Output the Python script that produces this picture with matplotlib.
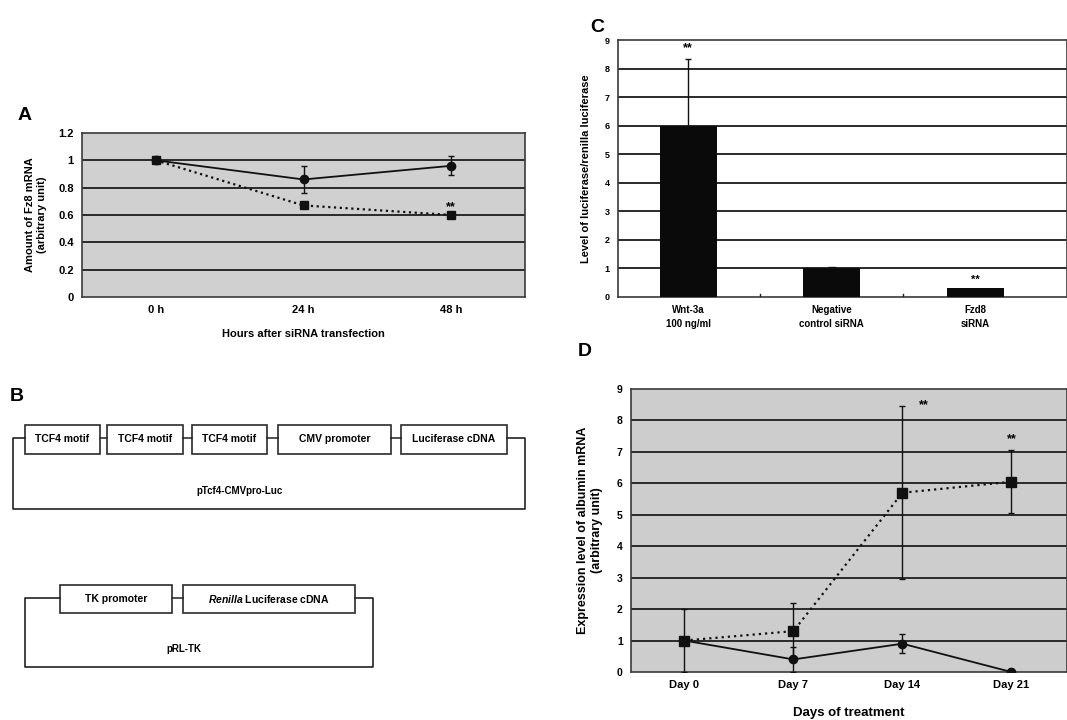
import matplotlib.pyplot as plt
from matplotlib.patches import Rectangle

plt.rcParams['font.family'] = ['Liberation Sans', 'DejaVu Sans']
plt.rcParams['font.weight'] = 'bold'
plt.rcParams['axes.labelweight'] = 'bold'
plt.rcParams['mathtext.fontset'] = 'custom'
plt.rcParams['mathtext.it'] = 'Liberation Sans:italic:bold'

# ---- data ----
# panel A: Fz8 mRNA after siRNA
a_labels = ['0 h', '24 h', '48 h']
a_ctrl = [1.0, 0.86, 0.96]
a_ctrl_err = [0.01, 0.1, 0.07]
a_sirna = [1.0, 0.67, 0.6]

# panel C: luciferase reporter
c_labels = ['Wnt-3a\n100 ng/ml', 'Negative\ncontrol siRNA', 'Fzd8\nsiRNA']
c_values = [6.0, 1.0, 0.3]
c_err = [2.35, 0.04, 0.0]

# panel D: albumin mRNA
d_labels = ['Day 0', 'Day 7', 'Day 14', 'Day 21']
d_sirna = [1.0, 1.3, 5.7, 6.05]
d_sirna_err = [1.0, 0.9, 2.75, 1.0]
d_ctrl = [1.0, 0.4, 0.9, 0.0]
d_ctrl_err = [0.0, 0.4, 0.3, 0.0]

# panel B: constructs
b1_parts = ['TCF4 motif', 'TCF4 motif', 'TCF4 motif', 'CMV promoter', 'Luciferase cDNA']
b1_name = 'pTcf4-CMVpro-Luc'
b2_parts = ['TK promoter', '$\\it{Renilla}$ Luciferase cDNA']
b2_name = 'pRL-TK'

W, H = 1067, 720
fig = plt.figure(figsize=(W / 100, H / 100), dpi=100)


def px_axes(x0, y0, x1, y1):
    # pixel box (top-left origin) -> axes
    return fig.add_axes([x0 / W, 1 - y1 / H, (x1 - x0) / W, (y1 - y0) / H])


def style(ax, grid_vals, face):
    ax.set_facecolor(face)
    for v in grid_vals:
        ax.axhline(v, color='#2a2a2a', lw=1.4, zorder=1)
    for s in ax.spines.values():
        s.set_color('#3a3a3a')
        s.set_linewidth(1.2)
    ax.tick_params(length=0, labelsize=8, pad=6)


# ---- A ----
ax = px_axes(82, 133, 525, 297)
style(ax, [0.2, 0.4, 0.6, 0.8, 1.0], '#d0d0d0')
xa = range(len(a_labels))
ax.errorbar(xa, a_ctrl, yerr=a_ctrl_err, color='#111', lw=1.3, marker='o', ms=6,
            capsize=2, elinewidth=1, zorder=4)
ax.plot(xa, a_sirna, color='#111', lw=1.6, ls=(0, (1, 1.6)), marker='s', ms=6, zorder=4)
ax.text(2, a_sirna[2] + 0.06, '**', ha='center', va='center', fontsize=9)
ax.set_xlim(-0.5, 2.5)
ax.set_ylim(0, 1.2)
ax.set_yticks([0, 0.2, 0.4, 0.6, 0.8, 1, 1.2])
ax.set_yticklabels(['0', '0.2', '0.4', '0.6', '0.8', '1', '1.2'])
ax.set_xticks(list(xa))
ax.set_xticklabels(a_labels)
ax.set_ylabel('Amount of Fz8 mRNA\n(arbitrary unit)', fontsize=8, labelpad=8)
ax.set_xlabel('Hours after siRNA transfection', fontsize=8, labelpad=10)
fig.text(18 / W, 1 - 115 / H, 'A', fontsize=14, ha='left', va='center')

# ---- C ----
ax = px_axes(618, 40, W, 297)
style(ax, range(1, 9), 'white')
xc = range(len(c_labels))
ax.bar(xc, c_values, width=0.4, color='#0a0a0a', zorder=3)
ax.errorbar([0], [c_values[0]], yerr=[[0], [c_err[0]]], fmt='none', ecolor='#111',
            elinewidth=1, capsize=2, zorder=4)
ax.errorbar([1], [c_values[1]], yerr=[[0], [c_err[1]]], fmt='none', ecolor='#111',
            elinewidth=1, capsize=3, zorder=4)
ax.text(0, c_values[0] + c_err[0] + 0.35, '**', ha='center', va='center', fontsize=9)
ax.text(2, c_values[2] + 0.3, '**', ha='center', va='center', fontsize=8)
ax.set_xlim(-0.49, 2.64)
ax.set_ylim(0, 9)
ax.set_yticks(range(10))
ax.tick_params(axis='y', labelsize=6.5)
ax.set_xticks(list(xc))
ax.set_xticklabels(c_labels, fontsize=7, linespacing=1.5)
for b in [0.5, 1.5]:
    ax.plot([b, b], [0, 0.12], color='#222', lw=1, zorder=3)
ax.set_ylabel('Level of luciferase/renilla luciferase', fontsize=8, labelpad=10)
fig.text(590 / W, 1 - 28 / H, 'C', fontsize=14, ha='left', va='center')

# ---- D ----
ax = px_axes(631, 389, W, 672)
style(ax, range(1, 9), '#cdcdcd')
xd = range(len(d_labels))
ax.errorbar(xd, d_sirna, yerr=d_sirna_err, color='#111', lw=1.6, ls=(0, (1, 1.8)),
            marker='s', ms=7, capsize=2, elinewidth=1, zorder=4)
ax.errorbar(xd, d_ctrl, yerr=d_ctrl_err, color='#111', lw=1.3, marker='o', ms=6,
            capsize=2, elinewidth=1, zorder=4)
ax.text(2.2, 8.5, '**', ha='center', va='center', fontsize=9)
ax.text(3.0, 7.4, '**', ha='center', va='center', fontsize=9)
ax.set_xlim(-0.49, 3.51)
ax.set_ylim(0, 9)
ax.set_yticks(range(10))
ax.tick_params(axis='y', labelsize=7.5)
ax.set_xticks(list(xd))
ax.set_xticklabels(d_labels)
ax.set_ylabel('Expression level of albumin mRNA\n(arbitrary unit)', fontsize=9, labelpad=10)
ax.set_xlabel('Days of treatment', fontsize=9.5, labelpad=12)
fig.text(578 / W, 1 - 352 / H, 'D', fontsize=14, ha='left', va='center')

# ---- B: plasmid diagrams ----
axb = fig.add_axes([0, 0, 1, 1])
axb.set_xlim(0, W)
axb.set_ylim(H, 0)
axb.axis('off')
axb.patch.set_alpha(0)
fig.text(10 / W, 1 - 396 / H, 'B', fontsize=14, ha='left', va='center')


def construct(parts, xs, top, bot, loop_left, loop_right, loop_bot, name, name_x):
    mid = top + (bot - top) * 0.45
    lc = '#222'
    for lab, (x0, x1) in zip(parts, xs):
        axb.add_patch(Rectangle((x0, top), x1 - x0, bot - top, fill=False,
                                ec='#2a2a2a', lw=1.2))
        axb.text((x0 + x1) / 2, (top + bot) / 2, lab, ha='center', va='center', fontsize=7.5)
    for (a0, a1), (b0, b1) in zip(xs[:-1], xs[1:]):
        axb.plot([a1, b0], [mid, mid], color=lc, lw=1.1)
    axb.plot([xs[0][0], loop_left, loop_left, loop_right, loop_right, xs[-1][1]],
             [mid, mid, loop_bot, loop_bot, mid, mid], color=lc, lw=1.2)
    axb.text(name_x, loop_bot - 18, name, ha='center', va='center', fontsize=7)


construct(b1_parts, [(25, 100), (107, 183), (192, 267), (278, 391), (401, 507)],
          425, 454, 13, 525, 509, b1_name, 240)
construct(b2_parts, [(60, 172), (183, 355)],
          585, 613, 25, 373, 667, b2_name, 184)

fig.savefig('out.png', dpi=100)
